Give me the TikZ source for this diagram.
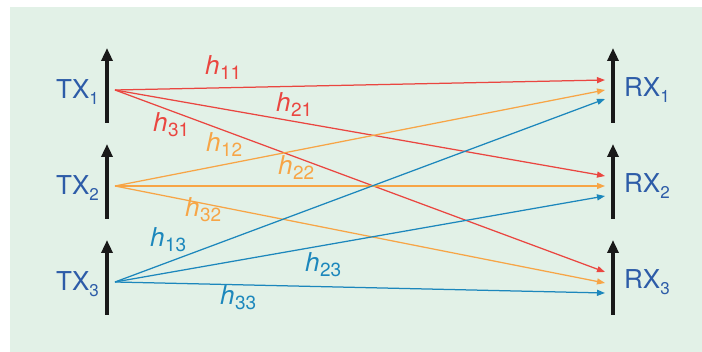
\documentclass[tikz,border=0pt]{standalone}
\usepackage{fontspec}
\setmainfont{TeX Gyre Heros}
\usetikzlibrary{arrows.meta}
\definecolor{bggreen}{HTML}{E2F1E7}
\definecolor{cred}{HTML}{EA4640}
\definecolor{corange}{HTML}{F7A546}
\definecolor{cblue}{HTML}{1C87BC}
\definecolor{ctext}{HTML}{2D5CA8}
\newcommand\hlab[1]{\textit{h}\kern0.5pt\raisebox{-4.5pt}{\fontsize{19}{19}\selectfont #1}}
\newcommand\sublab[2]{#1\raisebox{-6pt}{\fontsize{17}{17}\selectfont #2}}
\begin{document}
\begin{tikzpicture}[x=1pt,y=-1pt,
  antenna/.style={line width=4pt,black!90,-{Triangle[length=13pt,width=11pt]}},
  sig/.style={line width=1.25pt,-{Triangle[length=8pt,width=6pt]}},
  lab/.style={inner sep=0pt,font=\fontsize{26}{30}\selectfont},
  trx/.style={inner sep=0pt,text=ctext,font=\fontsize{26}{30}\selectfont}]
\useasboundingbox (0,0) rectangle (702,352);
\fill[white] (0,0) rectangle (702,352);
\fill[bggreen] (10,7) rectangle (702,352);
% antennas
\foreach \y/\n in {90/1,186/2,282/3}{
  \coordinate (ta\n) at (107,\y+33);
  \coordinate (tb\n) at (107,\y-42);
  \coordinate (ra\n) at (613,\y+33);
  \coordinate (rb\n) at (613,\y-42);
  \draw[antenna] (ta\n) -- (tb\n);
  \draw[antenna] (ra\n) -- (rb\n);
}
% labels
\node[trx,anchor=base east] (TX1) at (99,99) {\sublab{TX}{1}};
\node[trx,anchor=base east] (TX2) at (99,195) {\sublab{TX}{2}};
\node[trx,anchor=base east] (TX3) at (99,291) {\sublab{TX}{3}};
\node[trx,anchor=base west] (RX1) at (624,97) {\sublab{RX}{1}};
\node[trx,anchor=base west] (RX2) at (624,193) {\sublab{RX}{2}};
\node[trx,anchor=base west] (RX3) at (624,289) {\sublab{RX}{3}};
% sources
\coordinate (s1) at (115,90);
\coordinate (s2) at (115,186);
\coordinate (s3) at (115,282);
% destinations
\coordinate (d11) at (605,80);
\coordinate (d12) at (605,90);
\coordinate (d13) at (605,99);
\coordinate (d21) at (605,176);
\coordinate (d22) at (605,186);
\coordinate (d23) at (605,196);
\coordinate (d31) at (605,272);
\coordinate (d32) at (605,283);
\coordinate (d33) at (605,293);
% links: d<rx><tx>
\draw[sig,cred] (s1) -- (d11);
\draw[sig,cred] (s1) -- (d21);
\draw[sig,cred] (s1) -- (d31);
\draw[sig,corange] (s2) -- (d12);
\draw[sig,corange] (s2) -- (d22);
\draw[sig,corange] (s2) -- (d32);
\draw[sig,cblue] (s3) -- (d13);
\draw[sig,cblue] (s3) -- (d23);
\draw[sig,cblue] (s3) -- (d33);
% channel labels
\node[lab,text=cred,anchor=base west] (h11) at (205,75) {\hlab{11}};
\node[lab,text=cred,anchor=base west] (h21) at (276,112) {\hlab{21}};
\node[lab,text=cred,anchor=base west] (h31) at (153,132) {\hlab{31}};
\node[lab,text=corange,anchor=base west] (h12) at (206,152) {\hlab{12}};
\node[lab,text=corange,anchor=base west] (h22) at (278,175) {\hlab{22}};
\node[lab,text=corange,anchor=base west] (h32) at (185,217) {\hlab{32}};
\node[lab,text=cblue,anchor=base west] (h13) at (150,247) {\hlab{13}};
\node[lab,text=cblue,anchor=base west] (h23) at (305,272) {\hlab{23}};
\node[lab,text=cblue,anchor=base west] (h33) at (220,305) {\hlab{33}};
\end{tikzpicture}
\end{document}
